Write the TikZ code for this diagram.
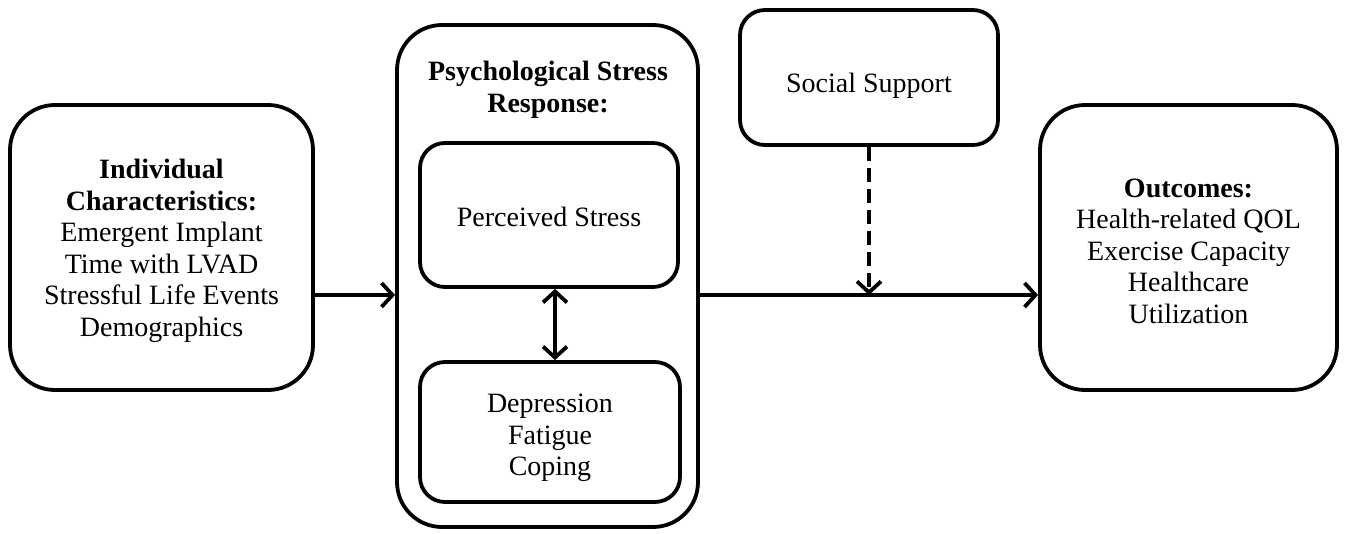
\documentclass[tikz,border=0pt]{standalone}
\usepackage{fontspec}
\setmainfont{Liberation Serif}
\usetikzlibrary{arrows.meta}
\begin{document}
\begin{tikzpicture}[x=1pt,y=-1pt,
  box/.style={draw=black,line width=3.8pt,inner sep=0pt},
  txt/.style={align=center,inner sep=0pt,font=\fontsize{28}{31.5}\selectfont},
  arr/.style={line width=3.8pt,-{Straight Barb[length=11pt,width=24pt,line width=3.8pt]}},
  darr/.style={line width=3.8pt,{Straight Barb[length=11pt,width=24pt,line width=3.8pt]}-{Straight Barb[length=11pt,width=24pt,line width=3.8pt]}},
  dasharr/.style={line width=3.8pt,dash pattern=on 14pt off 7pt,-{Straight Barb[length=11pt,width=24pt,line width=3.8pt]}}]
\useasboundingbox (0,0) rectangle (1349,534);
\node[box,rounded corners=45pt,minimum width=303pt,minimum height=285pt] (left) at (161.5,247.5) {};
\node[txt] (leftt) at (161.5,251) {\textbf{Individual}\\\textbf{Characteristics:}\\Emergent Implant\\Time with LVAD\\Stressful Life Events\\Demographics};
\node[box,rounded corners=45pt,minimum width=301pt,minimum height=502pt] (mid) at (547.5,276) {};
\node[txt,font=\fontsize{28}{31.5}\selectfont\bfseries] (title) at (548,90) {Psychological Stress\\Response:};
\node[box,rounded corners=25pt,minimum width=258pt,minimum height=144pt] (perc) at (549,215) {};
\node[txt] (perct) at (549,217) {Perceived Stress};
\node[box,rounded corners=25pt,minimum width=260pt,minimum height=140pt] (dep) at (550,432) {};
\node[txt] (dept) at (550,438) {Depression\\Fatigue\\Coping};
\node[box,rounded corners=25pt,minimum width=258pt,minimum height=135pt] (soc) at (869,77.5) {};
\node[txt] (soct) at (869,86) {Social Support};
\node[box,rounded corners=45pt,minimum width=297pt,minimum height=285pt] (out) at (1188.5,247.5) {};
\node[txt] (outt) at (1188.5,251) {\textbf{Outcomes:}\\Health-related QOL\\Exercise Capacity\\Healthcare\\Utilization};
\coordinate (ml) at (0,295);
\draw[arr] (left.east |- ml) -- (mid.west |- ml);
\draw[arr] (mid.east |- ml) -- (out.west |- ml);
\draw[darr] ([xshift=6pt]perc.south) -- ([xshift=6pt]perc.south |- dep.north);
\draw[dasharr] (soc.south) -- (soc.south |- ml);
\end{tikzpicture}
\end{document}
